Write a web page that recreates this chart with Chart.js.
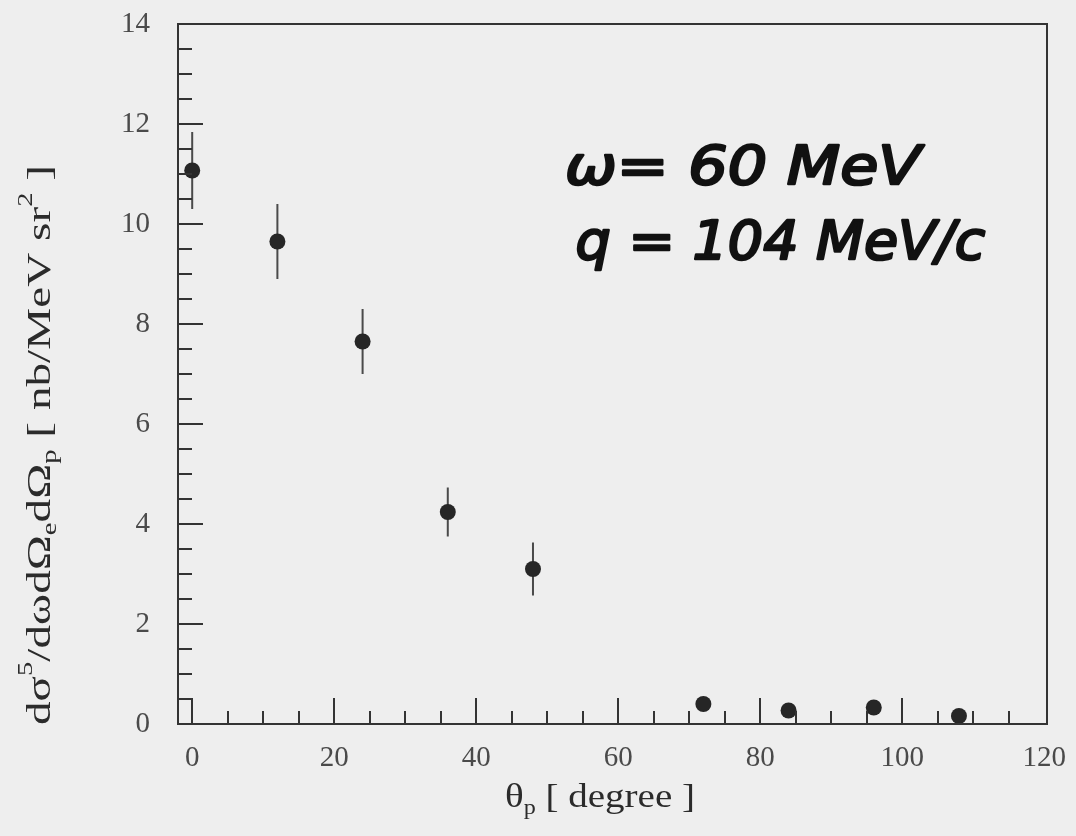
<!DOCTYPE html>
<html>
<head>
<meta charset="utf-8">
<script src="https://cdn.jsdelivr.net/npm/chart.js@4.4.1/dist/chart.umd.min.js"></script>
<style>
    html, body { margin: 0; padding: 0; background: #eeeeee; }
    #wrap { width: 1076px; height: 836px; position: relative; }
</style>
</head>
<body>
<div id="wrap"><canvas id="chart" width="1076" height="836"></canvas></div>
<script>
// proton angle [deg] and cross section [nb/MeV sr^2]
const angles = [0, 12, 24, 36, 48, 72, 84, 96, 108];
const crossSection = [11.07, 9.65, 7.65, 4.24, 3.1, 0.4, 0.27, 0.33, 0.16];
const crossSectionErr = [0.77, 0.75, 0.65, 0.49, 0.53, 0.05, 0.05, 0.05, 0.05];
const xTickLabels = [0, 20, 40, 60, 80, 100, 120];
const yTickLabels = [0, 2, 4, 6, 8, 10, 12, 14];
const noteLines = ['ω= 60 MeV', 'q = 104 MeV/c'];

const SERIF = '"Liberation Serif", "DejaVu Serif", serif';
const INK = '#2b2b2b';

// draws a run of text pieces with sub/superscripts, centred on (0,0),
// stretched sideways so the whole run is `span` pixels long
function drawPieces(ctx, pieces, size, span) {
    const small = Math.round(size * 0.62);
    const widths = pieces.map((p) => {
        ctx.font = (p.sub || p.sup ? small : size) + 'px ' + SERIF;
        return ctx.measureText(p.t).width;
    });
    const total = widths.reduce((a, b) => a + b, 0);
    ctx.scale(span / total, 1);
    let x = -total / 2;
    pieces.forEach((p, i) => {
        ctx.font = (p.sub || p.sup ? small : size) + 'px ' + SERIF;
        let dy = 0;
        if (p.sub) dy = size * 0.3;
        if (p.sup) dy = -size * 0.42;
        ctx.fillText(p.t, x, dy);
        x += widths[i];
    });
}

const framePlugin = {
    id: 'frame',
    beforeDraw(chart) {
        const ctx = chart.ctx;
        ctx.save();
        ctx.fillStyle = '#eeeeee';
        ctx.fillRect(0, 0, chart.width, chart.height);
        ctx.restore();
    },
    afterDraw(chart) {
        const {ctx, chartArea: a} = chart;
        const xs = chart.scales.x, ys = chart.scales.y;
        ctx.save();
        ctx.strokeStyle = '#333';
        ctx.lineWidth = 2;
        ctx.strokeRect(a.left, a.top, a.right - a.left, a.bottom - a.top);

        // inward tick marks, minor every 5 deg / 0.5 units
        ctx.beginPath();
        for (let v = 0; v <= 115; v += 5) {
            const px = Math.round(xs.getPixelForValue(v));
            const len = v % 20 === 0 ? 26 : 13;
            ctx.moveTo(px, a.bottom);
            ctx.lineTo(px, a.bottom - len);
        }
        for (let v = 0.5; v < 14; v += 0.5) {
            const py = Math.round(ys.getPixelForValue(v));
            const len = v % 2 === 0 ? 25 : 14;
            ctx.moveTo(a.left, py);
            ctx.lineTo(a.left + len, py);
        }
        ctx.stroke();

        // axis titles
        ctx.fillStyle = INK;
        ctx.textBaseline = 'middle';
        ctx.textAlign = 'left';
        ctx.save();
        ctx.translate(41, 445);
        ctx.rotate(-Math.PI / 2);
        drawPieces(ctx, [
            {t: 'dσ'}, {t: '5', sup: true}, {t: '/dωdΩ'}, {t: 'e', sub: true},
            {t: 'dΩ'}, {t: 'p', sub: true}, {t: ' [ nb/MeV sr'}, {t: '2', sup: true}, {t: ' ]'}
        ], 33, 560);
        ctx.restore();

        ctx.save();
        ctx.translate(600, 798);
        drawPieces(ctx, [{t: 'θ'}, {t: 'p', sub: true}, {t: ' [ degree ]'}], 34, 190);
        ctx.restore();

        // handwritten notes, anchored in data coordinates
        const notePos = [
            {x0: 52.5, x1: 102.6, y: 10.8},
            {x0: 54, x1: 111.7, y: 9.3}
        ];
        ctx.fillStyle = '#111';
        ctx.strokeStyle = '#111';
        ctx.lineWidth = 2.5;
        ctx.lineJoin = 'round';
        ctx.textBaseline = 'alphabetic';
        noteLines.forEach((txt, i) => {
            const p = notePos[i];
            const left = xs.getPixelForValue(p.x0);
            const target = xs.getPixelForValue(p.x1) - left;
            ctx.font = 'italic 54px "DejaVu Sans", sans-serif';
            const w = ctx.measureText(txt).width;
            ctx.save();
            ctx.translate(left, ys.getPixelForValue(p.y));
            ctx.scale(target / w, 1);
            ctx.fillText(txt, 0, 0);
            ctx.strokeText(txt, 0, 0);
            ctx.restore();
        });
        ctx.restore();
    }
};

const errorBarPlugin = {
    id: 'errorBars',
    beforeDatasetsDraw(chart) {
        const ctx = chart.ctx;
        const xs = chart.scales.x, ys = chart.scales.y;
        ctx.save();
        ctx.strokeStyle = '#4a4a4a';
        ctx.lineWidth = 2;
        ctx.beginPath();
        angles.forEach((a, i) => {
            const px = xs.getPixelForValue(a);
            ctx.moveTo(px, ys.getPixelForValue(crossSection[i] - crossSectionErr[i]));
            ctx.lineTo(px, ys.getPixelForValue(crossSection[i] + crossSectionErr[i]));
        });
        ctx.stroke();
        ctx.restore();
    }
};

const tickFont = {family: SERIF, size: 29};

new Chart(document.getElementById('chart').getContext('2d'), {
    type: 'scatter',
    data: {
        datasets: [{
            data: angles.map((a, i) => ({x: a, y: crossSection[i]})),
            pointRadius: 8,
            pointHoverRadius: 8,
            backgroundColor: '#262626',
            borderColor: '#262626',
            borderWidth: 0
        }]
    },
    options: {
        responsive: false,
        animation: false,
        devicePixelRatio: 1,
        layout: {padding: {top: 24, right: 29, left: 0, bottom: 0}},
        plugins: {legend: {display: false}, tooltip: {enabled: false}},
        scales: {
            x: {
                type: 'linear',
                min: -2,
                max: 120.4,
                afterBuildTicks: (s) => { s.ticks = xTickLabels.map((v) => ({value: v})); },
                afterFit: (s) => { s.height = 112; s.paddingLeft = 0; s.paddingRight = 0; },
                grid: {display: false, drawTicks: false},
                border: {display: false},
                ticks: {font: tickFont, color: '#4a4a4a', padding: 17, maxRotation: 0, autoSkip: false}
            },
            y: {
                type: 'linear',
                min: 0,
                max: 14,
                afterBuildTicks: (s) => { s.ticks = yTickLabels.map((v) => ({value: v})); },
                afterFit: (s) => { s.width = 178; s.paddingTop = 0; s.paddingBottom = 0; },
                grid: {display: false, drawTicks: false},
                border: {display: false},
                ticks: {font: tickFont, color: '#4a4a4a', padding: 28, autoSkip: false}
            }
        }
    },
    plugins: [framePlugin, errorBarPlugin]
});
</script>
</body>
</html>
